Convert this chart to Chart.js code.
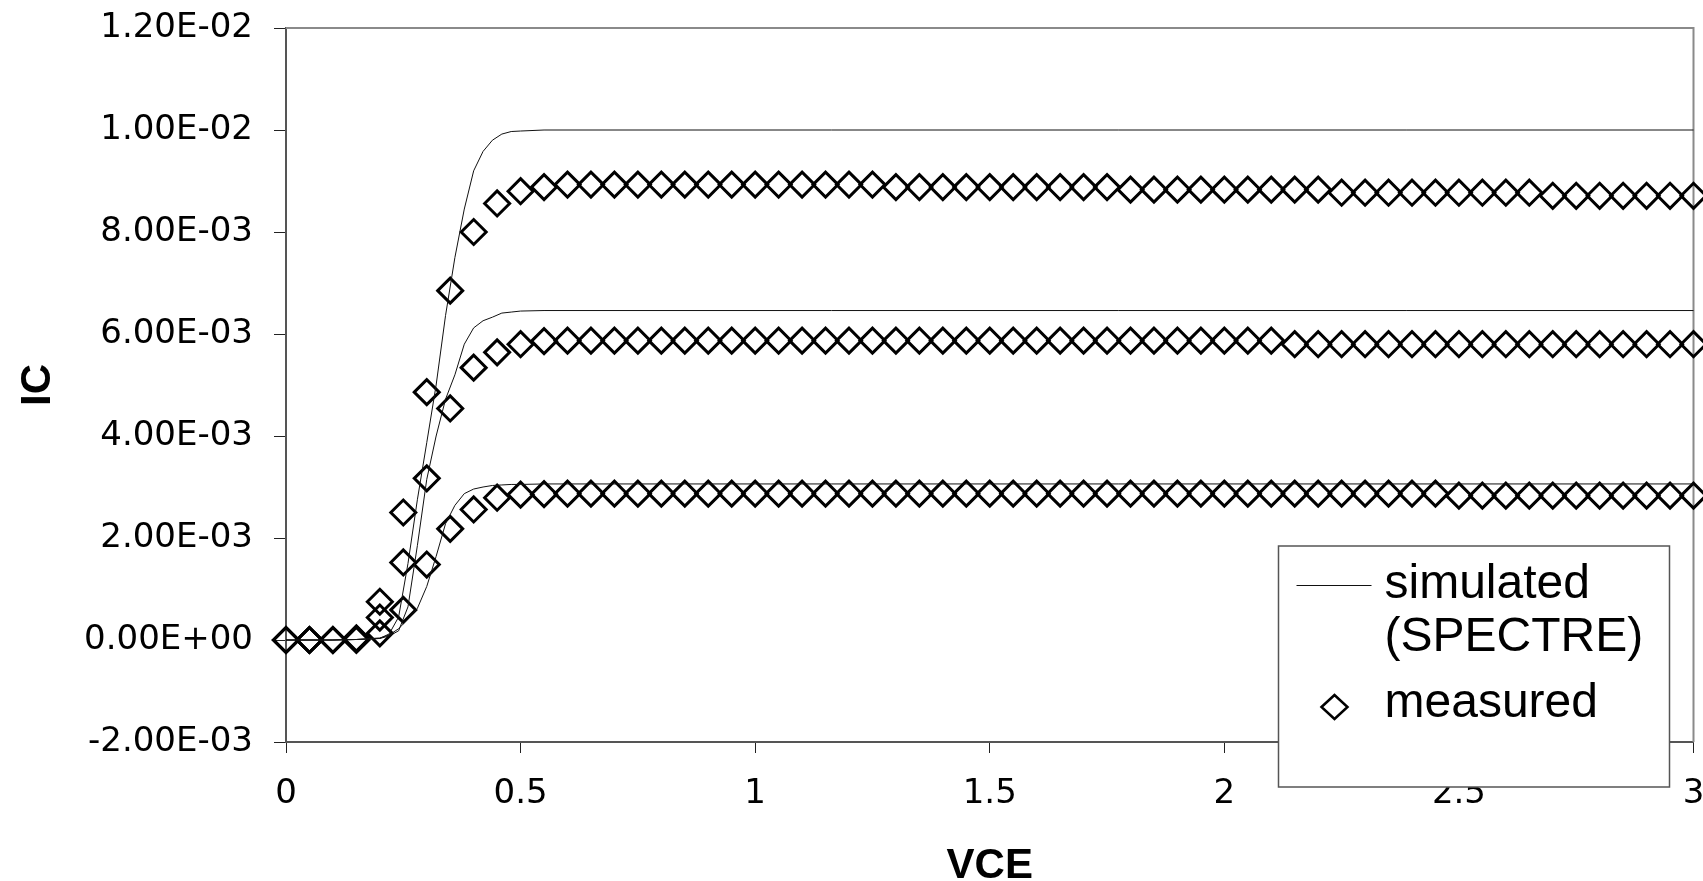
<!DOCTYPE html>
<html>
<head>
<meta charset="utf-8">
<script src="https://cdn.jsdelivr.net/npm/chart.js@4.4.1/dist/chart.umd.min.js"></script>
<style>
  html, body { margin: 0; padding: 0; background: #fff; overflow: hidden; }
  #wrap { width: 1709px; height: 881px; position: relative; }
</style>
</head>
<body>
<div id="wrap"><canvas id="icChart"></canvas></div>
<script>
// --- data (VCE in V, IC in mA) ---
const vce = [0, 0.05, 0.1, 0.15, 0.2, 0.25, 0.3, 0.35, 0.4, 0.45, 0.5, 0.55, 0.6, 0.65, 0.7, 0.75, 0.8, 0.85, 0.9, 0.95,
  1, 1.05, 1.1, 1.15, 1.2, 1.25, 1.3, 1.35, 1.4, 1.45, 1.5, 1.55, 1.6, 1.65, 1.7, 1.75, 1.8, 1.85, 1.9, 1.95,
  2, 2.05, 2.1, 2.15, 2.2, 2.25, 2.3, 2.35, 2.4, 2.45, 2.5, 2.55, 2.6, 2.65, 2.7, 2.75, 2.8, 2.85, 2.9, 2.95, 3];

const measHigh = [0, 0, 0, 0.03, 0.75, 2.50, 4.86, 6.85, 8.00, 8.56, 8.80, 8.88, 8.93,
  8.93, 8.93, 8.93, 8.93, 8.93, 8.93, 8.93, 8.93, 8.93, 8.93, 8.93, 8.93, 8.93,
  8.88, 8.88, 8.88, 8.88, 8.88, 8.88, 8.88, 8.88, 8.88, 8.88,
  8.83, 8.83, 8.83, 8.83, 8.83, 8.83, 8.83, 8.83, 8.83,
  8.77, 8.77, 8.77, 8.77, 8.77, 8.77, 8.77, 8.77, 8.77,
  8.71, 8.71, 8.71, 8.71, 8.71, 8.71, 8.71];

const measMid = [0, 0, 0, 0.02, 0.44, 1.52, 3.17, 4.54, 5.34, 5.64, 5.80, 5.86,
  5.87, 5.87, 5.87, 5.87, 5.87, 5.87, 5.87, 5.87, 5.87, 5.87, 5.87, 5.87, 5.87, 5.87, 5.87, 5.87,
  5.87, 5.87, 5.87, 5.87, 5.87, 5.87, 5.87, 5.87, 5.87, 5.87, 5.87, 5.87, 5.87, 5.87, 5.87,
  5.80, 5.80, 5.80, 5.80, 5.80, 5.80, 5.80, 5.80, 5.80, 5.80, 5.80, 5.80, 5.80, 5.80, 5.80, 5.80, 5.80, 5.80];

const measLow = [0, 0, 0, 0, 0.13, 0.59, 1.48, 2.18, 2.56, 2.79, 2.85, 2.86,
  2.87, 2.87, 2.87, 2.87, 2.87, 2.87, 2.87, 2.87, 2.87, 2.87, 2.87, 2.87, 2.87, 2.87, 2.87, 2.87, 2.87, 2.87, 2.87,
  2.87, 2.87, 2.87, 2.87, 2.87, 2.87, 2.87, 2.87, 2.87, 2.87, 2.87, 2.87, 2.87, 2.87, 2.87, 2.87, 2.87, 2.87, 2.87,
  2.83, 2.83, 2.83, 2.83, 2.83, 2.83, 2.83, 2.83, 2.83, 2.83, 2.83];

// simulated curves (SPECTRE)
const simV = [0, 0.1, 0.15, 0.2, 0.22, 0.24, 0.26, 0.28, 0.3, 0.32, 0.34, 0.36, 0.38, 0.4, 0.42, 0.44, 0.46, 0.48, 0.5, 0.55, 3];
const simHigh = [0, 0, 0.01, 0.03, 0.12, 0.45, 1.5, 2.75, 3.87, 5.0, 6.36, 7.5, 8.45, 9.2, 9.58, 9.8, 9.92, 9.97, 9.98, 10.0, 10.0];
const simMid = [0, 0, 0.01, 0.03, 0.08, 0.18, 0.65, 1.85, 3.15, 4.0, 4.72, 5.2, 5.8, 6.12, 6.26, 6.33, 6.41, 6.43, 6.45, 6.46, 6.46];
const simLow = [0, 0, 0.01, 0.04, 0.1, 0.22, 0.41, 0.62, 1.05, 1.64, 2.28, 2.64, 2.87, 2.96, 3.0, 3.03, 3.04, 3.05, 3.05, 3.06, 3.06];

const xTickLabels = ['0', '0.5', '1', '1.5', '2', '2.5', '3'];
const yTickLabels = ['-2.00E-03', '0.00E+00', '2.00E-03', '4.00E-03', '6.00E-03', '8.00E-03', '1.00E-02', '1.20E-02'];

const legendItems = ['simulated', '(SPECTRE)', 'measured'];

// mA -> A
const toPoints = (xs, ys) => xs.map((x, i) => ({ x: x, y: ys[i] / 1000 }));

const simStyle = {
    showLine: true,
    borderColor: '#111',
    borderWidth: 1,
    pointRadius: 0,
    tension: 0,
    clip: false
};
const measStyle = {
    showLine: false,
    pointStyle: 'rectRot',
    pointRadius: 12.5,
    pointBorderWidth: 3,
    pointBorderColor: '#000',
    pointBackgroundColor: 'transparent',
    clip: false
};

// frame on top/right + boxed legend inside plot
const frameLegend = {
    id: 'frameLegend',
    beforeDatasetsDraw(chart) {
        const { ctx, chartArea: a } = chart;
        ctx.save();
        ctx.strokeStyle = '#8a8a8a';
        ctx.lineWidth = 2;
        ctx.beginPath();
        ctx.moveTo(a.left, a.top);
        ctx.lineTo(a.right, a.top);
        ctx.lineTo(a.right, a.bottom);
        ctx.stroke();
        ctx.restore();
    },
    afterDraw(chart) {
        const { ctx, chartArea: a } = chart;
        const L = a.right - 415, T = a.bottom - 196;
        ctx.save();
        ctx.fillStyle = '#fff';
        ctx.fillRect(L, T, 391, 241);
        ctx.strokeStyle = '#555';
        ctx.lineWidth = 1.5;
        ctx.strokeRect(L, T, 391, 241);

        ctx.strokeStyle = '#111';
        ctx.lineWidth = 1;
        ctx.beginPath();
        ctx.moveTo(L + 18, T + 39.5);
        ctx.lineTo(L + 93, T + 39.5);
        ctx.stroke();

        ctx.lineWidth = 2.5;
        ctx.strokeStyle = '#000';
        const cx = L + 56, cy = T + 161;
        ctx.beginPath();
        ctx.moveTo(cx - 13, cy);
        ctx.lineTo(cx, cy - 12);
        ctx.lineTo(cx + 13, cy);
        ctx.lineTo(cx, cy + 12);
        ctx.closePath();
        ctx.stroke();

        ctx.fillStyle = '#000';
        ctx.font = '48px "Liberation Sans", Arial, sans-serif';
        ctx.textBaseline = 'alphabetic';
        ctx.textAlign = 'left';
        ctx.fillText(legendItems[0], L + 106, T + 52);
        ctx.fillText(legendItems[1], L + 106, T + 105);
        ctx.fillText(legendItems[2], L + 106, T + 171);
        ctx.restore();
    }
};

const ctx = document.getElementById('icChart').getContext('2d');
new Chart(ctx, {
    type: 'scatter',
    data: {
        datasets: [
            { label: 'simulated (SPECTRE)', data: toPoints(simV, simHigh), ...simStyle },
            { label: 'simulated mid', data: toPoints(simV, simMid), ...simStyle },
            { label: 'simulated low', data: toPoints(simV, simLow), ...simStyle },
            { label: 'measured', data: toPoints(vce, measHigh), ...measStyle },
            { label: 'measured mid', data: toPoints(vce, measMid), ...measStyle },
            { label: 'measured low', data: toPoints(vce, measLow), ...measStyle }
        ]
    },
    options: {
        responsive: true,
        maintainAspectRatio: false,
        animation: false,
        layout: { padding: { top: 28, right: 4, bottom: 0, left: 0 } },
        plugins: {
            legend: { display: false },
            tooltip: { enabled: false }
        },
        scales: {
            x: {
                type: 'linear',
                min: 0,
                max: 3,
                afterFit: s => { s.height = 139; s.paddingLeft = 0; s.paddingRight = 0; },
                border: { color: '#555', width: 2 },
                grid: { drawOnChartArea: false, tickLength: 11, color: '#222', tickWidth: 1 },
                ticks: {
                    stepSize: 0.5,
                    padding: 21,
                    color: '#000',
                    font: { family: '"DejaVu Sans", sans-serif', size: 34 },
                    callback: (v, i) => xTickLabels[i]
                },
                title: {
                    display: true,
                    text: 'VCE',
                    color: '#000',
                    padding: 0,
                    font: { family: '"Liberation Sans", Arial, sans-serif', size: 42, weight: 'bold', lineHeight: 0.7 }
                }
            },
            y: {
                type: 'linear',
                min: -0.002,
                max: 0.012,
                afterFit: s => { s.width = 286; s.paddingTop = 0; s.paddingBottom = 0; },
                border: { color: '#555', width: 2 },
                grid: { drawOnChartArea: false, tickLength: 12, color: '#222', tickWidth: 1 },
                ticks: {
                    stepSize: 0.002,
                    padding: 21,
                    color: '#000',
                    font: { family: '"DejaVu Sans", sans-serif', size: 34 },
                    callback: (v, i) => yTickLabels[i]
                },
                title: {
                    display: true,
                    text: 'IC',
                    color: '#000',
                    padding: { top: 22, bottom: 0 },
                    font: { family: '"Liberation Sans", Arial, sans-serif', size: 42, weight: 'bold', lineHeight: 0.8 }
                }
            }
        }
    },
    plugins: [frameLegend]
});
</script>
</body>
</html>
